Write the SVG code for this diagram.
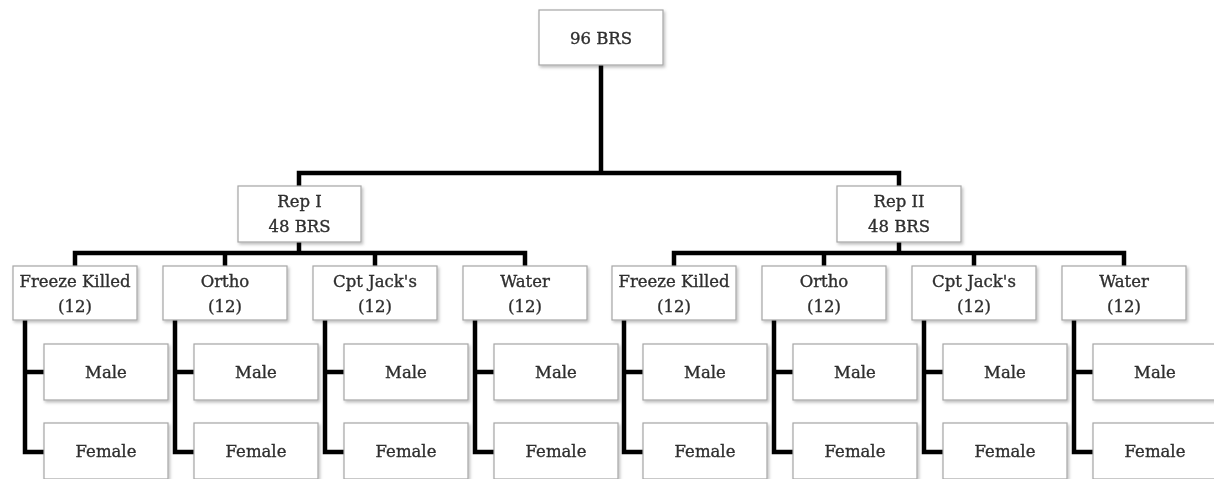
<svg xmlns="http://www.w3.org/2000/svg" width="1214" height="479" viewBox="0 0 1214 479">
<style>
.box{fill:#fff;stroke:#a6a6a6;stroke-width:1.2}
.t{font-family:"DejaVu Serif","Liberation Serif",serif;font-size:16.5px;fill:#2e2e2e;stroke:#2e2e2e;stroke-width:0.35;text-anchor:middle}
.c{fill:none;stroke:#000;stroke-width:4.5;stroke-linejoin:miter}
</style>
<defs>
<filter id="ds" x="-10%" y="-10%" width="125%" height="130%">
<feDropShadow dx="1.5" dy="2" stdDeviation="1.5" flood-color="#000" flood-opacity="0.25"/>
</filter>
</defs>
<g id="connectors">
<path class="c" d="M601,65 V173"/>
<path class="c" d="M299,186 V173 H899 V186"/>
<path class="c" d="M299,242 V253"/>
<path class="c" d="M75,266 V253 H525 V266 M225,253 V266 M375,253 V266"/>
<path class="c" d="M899,242 V253"/>
<path class="c" d="M674,266 V253 H1124 V266 M824,253 V266 M974,253 V266"/>
<path class="c" d="M25,320 V452 H44 M25,372 H44"/>
<path class="c" d="M175,320 V452 H194 M175,372 H194"/>
<path class="c" d="M325,320 V452 H344 M325,372 H344"/>
<path class="c" d="M475,320 V452 H494 M475,372 H494"/>
<path class="c" d="M624,320 V452 H643 M624,372 H643"/>
<path class="c" d="M774,320 V452 H793 M774,372 H793"/>
<path class="c" d="M924,320 V452 H943 M924,372 H943"/>
<path class="c" d="M1074,320 V452 H1093 M1074,372 H1093"/>
</g>
<g id="root" filter="url(#ds)"><rect class="box" x="539" y="10" width="124" height="55"/><text class="t" x="601" y="44">96 BRS</text></g>
<g id="rep1" filter="url(#ds)"><rect class="box" x="238" y="186" width="123" height="56"/><text class="t" x="299.5" y="207">Rep I</text><text class="t" x="299.5" y="232">48 BRS</text></g>
<g id="rep2" filter="url(#ds)"><rect class="box" x="837" y="186" width="124" height="56"/><text class="t" x="899" y="207">Rep II</text><text class="t" x="899" y="232">48 BRS</text></g>
<g id="r1-freeze" filter="url(#ds)"><rect class="box" x="13" y="266" width="124" height="54"/><text class="t" x="75" y="287">Freeze Killed</text><text class="t" x="75" y="312">(12)</text></g>
<g id="r1-ortho" filter="url(#ds)"><rect class="box" x="163" y="266" width="124" height="54"/><text class="t" x="225" y="287">Ortho</text><text class="t" x="225" y="312">(12)</text></g>
<g id="r1-cpt" filter="url(#ds)"><rect class="box" x="313" y="266" width="124" height="54"/><text class="t" x="375" y="287">Cpt Jack's</text><text class="t" x="375" y="312">(12)</text></g>
<g id="r1-water" filter="url(#ds)"><rect class="box" x="463" y="266" width="124" height="54"/><text class="t" x="525" y="287">Water</text><text class="t" x="525" y="312">(12)</text></g>
<g id="r2-freeze" filter="url(#ds)"><rect class="box" x="612" y="266" width="124" height="54"/><text class="t" x="674" y="287">Freeze Killed</text><text class="t" x="674" y="312">(12)</text></g>
<g id="r2-ortho" filter="url(#ds)"><rect class="box" x="762" y="266" width="124" height="54"/><text class="t" x="824" y="287">Ortho</text><text class="t" x="824" y="312">(12)</text></g>
<g id="r2-cpt" filter="url(#ds)"><rect class="box" x="912" y="266" width="124" height="54"/><text class="t" x="974" y="287">Cpt Jack's</text><text class="t" x="974" y="312">(12)</text></g>
<g id="r2-water" filter="url(#ds)"><rect class="box" x="1062" y="266" width="124" height="54"/><text class="t" x="1124" y="287">Water</text><text class="t" x="1124" y="312">(12)</text></g>
<g id="r1-freeze-male" filter="url(#ds)"><rect class="box" x="44" y="344" width="124" height="56"/><text class="t" x="106" y="378">Male</text></g>
<g id="r1-freeze-female" filter="url(#ds)"><rect class="box" x="44" y="423" width="124" height="56"/><text class="t" x="106" y="457">Female</text></g>
<g id="r1-ortho-male" filter="url(#ds)"><rect class="box" x="194" y="344" width="124" height="56"/><text class="t" x="256" y="378">Male</text></g>
<g id="r1-ortho-female" filter="url(#ds)"><rect class="box" x="194" y="423" width="124" height="56"/><text class="t" x="256" y="457">Female</text></g>
<g id="r1-cpt-male" filter="url(#ds)"><rect class="box" x="344" y="344" width="124" height="56"/><text class="t" x="406" y="378">Male</text></g>
<g id="r1-cpt-female" filter="url(#ds)"><rect class="box" x="344" y="423" width="124" height="56"/><text class="t" x="406" y="457">Female</text></g>
<g id="r1-water-male" filter="url(#ds)"><rect class="box" x="494" y="344" width="124" height="56"/><text class="t" x="556" y="378">Male</text></g>
<g id="r1-water-female" filter="url(#ds)"><rect class="box" x="494" y="423" width="124" height="56"/><text class="t" x="556" y="457">Female</text></g>
<g id="r2-freeze-male" filter="url(#ds)"><rect class="box" x="643" y="344" width="124" height="56"/><text class="t" x="705" y="378">Male</text></g>
<g id="r2-freeze-female" filter="url(#ds)"><rect class="box" x="643" y="423" width="124" height="56"/><text class="t" x="705" y="457">Female</text></g>
<g id="r2-ortho-male" filter="url(#ds)"><rect class="box" x="793" y="344" width="124" height="56"/><text class="t" x="855" y="378">Male</text></g>
<g id="r2-ortho-female" filter="url(#ds)"><rect class="box" x="793" y="423" width="124" height="56"/><text class="t" x="855" y="457">Female</text></g>
<g id="r2-cpt-male" filter="url(#ds)"><rect class="box" x="943" y="344" width="124" height="56"/><text class="t" x="1005" y="378">Male</text></g>
<g id="r2-cpt-female" filter="url(#ds)"><rect class="box" x="943" y="423" width="124" height="56"/><text class="t" x="1005" y="457">Female</text></g>
<g id="r2-water-male" filter="url(#ds)"><rect class="box" x="1093" y="344" width="124" height="56"/><text class="t" x="1155" y="378">Male</text></g>
<g id="r2-water-female" filter="url(#ds)"><rect class="box" x="1093" y="423" width="124" height="56"/><text class="t" x="1155" y="457">Female</text></g>
</svg>
